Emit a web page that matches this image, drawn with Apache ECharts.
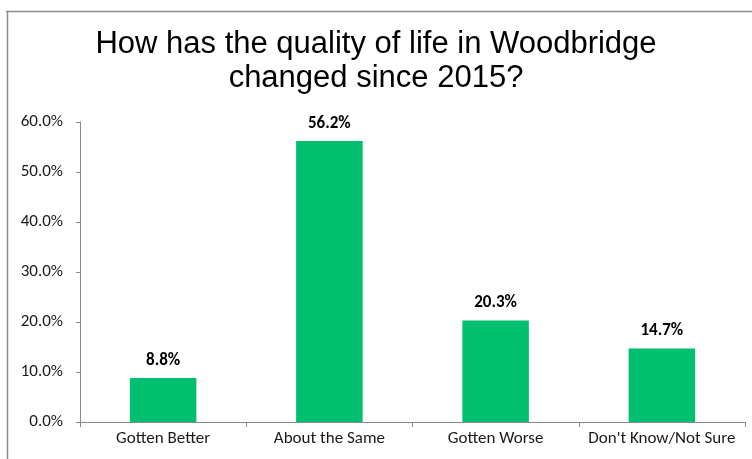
<!DOCTYPE html>
<html><head><meta charset="utf-8">
<script src="https://cdn.jsdelivr.net/npm/echarts@6/dist/echarts.min.js"></script>
<style>html,body{margin:0;padding:0;background:#fff}#c{width:752px;height:459px}</style>
</head><body><div id="c"></div>
<script>
const categories = ["Gotten Better", "About the Same", "Gotten Worse", "Don't Know/Not Sure"];
const values = [8.8, 56.2, 20.3, 14.7];
const titleText = "How has the quality of life in Woodbridge\nchanged since 2015?";

const chart = echarts.init(document.getElementById('c'), null, {renderer: 'canvas'});
const lblFont = "Carlito, 'Open Sans', 'Noto Sans', sans-serif";
chart.setOption({
  animation: false,
  backgroundColor: '#fff',
  title: {
    text: titleText, left: 'center', top: 22,
    textStyle: {fontFamily: "'Liberation Sans Narrow', 'Liberation Sans', Arial, sans-serif", fontSize: 31, fontWeight: 'normal', color: '#000', lineHeight: 34}
  },
  graphic: [
    {type: 'line', shape: {x1: 6, y1: 11.5, x2: 752, y2: 11.5}, style: {stroke: '#8c8c8c', lineWidth: 1.5}},
    {type: 'line', shape: {x1: 7.5, y1: 11, x2: 7.5, y2: 459}, style: {stroke: '#8c8c8c', lineWidth: 1.5}}
  ],
  grid: {left: 80, right: 7, top: 122, bottom: 37, containLabel: false},
  xAxis: {
    type: 'category', data: categories, boundaryGap: true,
    axisLine: {lineStyle: {color: '#898989', width: 1}},
    axisTick: {show: true, length: 5, interval: 0, lineStyle: {color: '#898989'}},
    axisLabel: {interval: 0, margin: 8, fontFamily: lblFont, fontSize: 17, color: '#1a1a1a'}
  },
  yAxis: {
    type: 'value', min: 0, max: 60, interval: 10,
    axisLine: {show: true, lineStyle: {color: '#898989', width: 1}},
    axisTick: {show: true, length: 4, lineStyle: {color: '#898989'}},
    splitLine: {show: false},
    axisLabel: {margin: 17, fontFamily: lblFont, fontSize: 17, color: '#1a1a1a', formatter: v => v.toFixed(1) + '%'}
  },
  series: [{
    type: 'bar', data: values, barWidth: '40%',
    itemStyle: {color: '#00BF6F'},
    label: {show: true, position: 'top', distance: 9, fontFamily: lblFont, fontSize: 17, fontWeight: 'bold', color: '#000', formatter: p => p.value.toFixed(1) + '%'}
  }]
});
</script></body></html>
